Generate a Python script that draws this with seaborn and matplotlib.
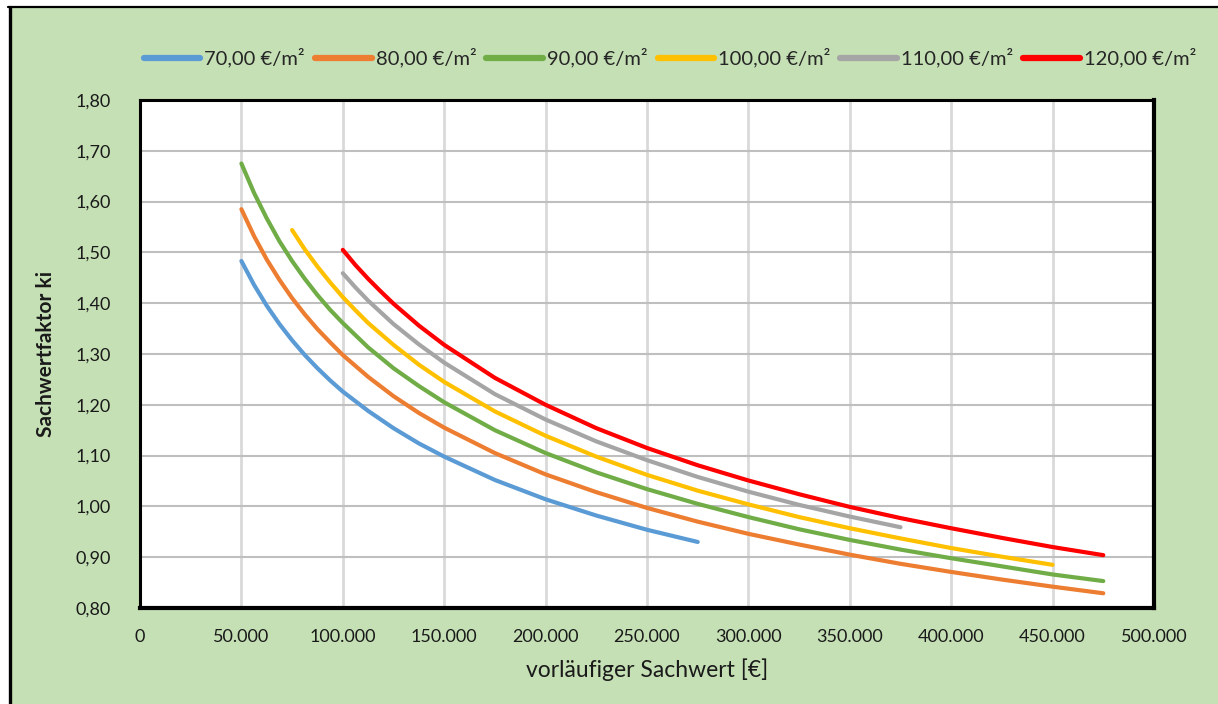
import matplotlib
matplotlib.use("Agg")
import matplotlib.pyplot as plt
from matplotlib.lines import Line2D
from matplotlib.patches import Rectangle
from matplotlib.ticker import FuncFormatter
import seaborn as sns
import pandas as pd

# Sachwertfaktor ki against vorläufiger Sachwert, one curve per Bodenrichtwert
series_labels = ["70,00 €/m²", "80,00 €/m²", "90,00 €/m²",
                 "100,00 €/m²", "110,00 €/m²", "120,00 €/m²"]

x_70 = [50000, 56250, 62500, 68750, 75000, 81250, 87500, 93750, 100000,
        112500, 125000, 137500, 150000, 175000, 200000, 225000, 250000, 275000]
k_70 = [1.483, 1.436, 1.395, 1.359, 1.327, 1.298, 1.272, 1.248, 1.226,
        1.188, 1.154, 1.124, 1.098, 1.052, 1.014, 0.982, 0.954, 0.930]

x_80 = [50000, 56250, 62500, 68750, 75000, 81250, 87500, 93750, 100000,
        112500, 125000, 137500, 150000, 175000, 200000, 225000, 250000,
        275000, 300000, 325000, 350000, 375000, 400000, 425000, 450000, 475000]
k_80 = [1.585, 1.532, 1.486, 1.446, 1.410, 1.378, 1.349, 1.323, 1.298,
        1.255, 1.217, 1.184, 1.155, 1.105, 1.063, 1.028, 0.997,
        0.970, 0.946, 0.925, 0.905, 0.887, 0.871, 0.856, 0.842, 0.829]

x_90 = [50000, 56250, 62500, 68750, 75000, 81250, 87500, 93750, 100000,
        112500, 125000, 137500, 150000, 175000, 200000, 225000, 250000,
        275000, 300000, 325000, 350000, 375000, 400000, 425000, 450000, 475000]
k_90 = [1.675, 1.617, 1.567, 1.522, 1.483, 1.448, 1.416, 1.387, 1.361,
        1.313, 1.272, 1.237, 1.205, 1.150, 1.105, 1.067, 1.034,
        1.005, 0.979, 0.955, 0.934, 0.915, 0.898, 0.882, 0.866, 0.853]

x_100 = [75000, 81250, 87500, 93750, 100000, 106250, 112500, 125000, 137500,
         150000, 175000, 200000, 225000, 250000, 275000, 300000, 325000,
         350000, 375000, 400000, 425000, 450000]
k_100 = [1.544, 1.506, 1.472, 1.441, 1.412, 1.386, 1.361, 1.318, 1.279,
         1.245, 1.187, 1.139, 1.098, 1.062, 1.031, 1.004, 0.979,
         0.957, 0.937, 0.918, 0.901, 0.885]

x_110 = [100000, 106250, 112500, 118750, 125000, 137500, 150000, 175000,
         200000, 225000, 250000, 275000, 300000, 325000, 350000, 375000]
k_110 = [1.459, 1.431, 1.405, 1.382, 1.359, 1.319, 1.283, 1.221,
         1.171, 1.128, 1.091, 1.058, 1.029, 1.003, 0.980, 0.959]

x_120 = [100000, 106250, 112500, 118750, 125000, 137500, 150000, 175000,
         200000, 225000, 250000, 275000, 300000, 325000, 350000, 375000,
         400000, 425000, 450000, 475000]
k_120 = [1.505, 1.475, 1.448, 1.423, 1.399, 1.356, 1.318, 1.253,
         1.200, 1.154, 1.115, 1.081, 1.051, 1.024, 0.999, 0.977,
         0.957, 0.938, 0.920, 0.904]

x_ticks = [0, 50000, 100000, 150000, 200000, 250000, 300000, 350000,
           400000, 450000, 500000]
y_ticks = [0.80, 0.90, 1.00, 1.10, 1.20, 1.30, 1.40, 1.50, 1.60, 1.70, 1.80]

line_colors = ["#5B9BD5", "#ED7D31", "#70AD47", "#FFC000", "#A5A5A5", "#FF0000"]

xs = [x_70, x_80, x_90, x_100, x_110, x_120]
ks = [k_70, k_80, k_90, k_100, k_110, k_120]
frames = []
for label, x, k in zip(series_labels, xs, ks):
    frames.append(pd.DataFrame({"Sachwert": x, "ki": k, "Bodenwert": label}))
df = pd.concat(frames, ignore_index=True)

sns.set_theme(style="white")
plt.rcParams["font.family"] = ["Lato", "DejaVu Sans"]

W, H = 1218, 704
fig = plt.figure(figsize=(W / 100, H / 100), dpi=100, facecolor="white")

# green chart area with a black frame on its left and top edge
fig.add_artist(Rectangle((9 / W, 0), 1 - 9 / W, 1 - 7 / H,
                         transform=fig.transFigure, facecolor="#C5E0B4",
                         edgecolor="none", zorder=0))
fig.add_artist(Line2D([9.5 / W, 9.5 / W], [0, 1 - 7 / H], transform=fig.transFigure,
                      color="black", linewidth=2.4, zorder=1))
fig.add_artist(Line2D([8 / W, 1], [1 - 7 / H, 1 - 7 / H], transform=fig.transFigure,
                      color="black", linewidth=1.6, zorder=1))

ax = fig.add_axes([140 / W, 96 / H, (1154 - 140) / W, (608 - 100) / H])
ax.set_facecolor("white")

sns.lineplot(data=df, x="Sachwert", y="ki", hue="Bodenwert",
             hue_order=series_labels, palette=line_colors, sort=False,
             estimator=None, linewidth=3.0, ax=ax, zorder=3)

ax.set_xlim(0, 500000)
ax.set_ylim(0.80, 1.80)
ax.set_xticks(x_ticks)
ax.set_yticks(y_ticks)
ax.xaxis.set_major_formatter(FuncFormatter(lambda v, p: "0" if v == 0 else f"{int(v):,}".replace(",", ".")))
ax.yaxis.set_major_formatter(FuncFormatter(lambda v, p: f"{v:.2f}".replace(".", ",")))
ax.tick_params(axis="both", length=0, labelsize=13, colors="#1a1a1a")
ax.tick_params(axis="x", pad=15)
ax.tick_params(axis="y", pad=21)

ax.grid(axis="y", color="#BFBFBF", linewidth=1.5, zorder=0)
ax.grid(axis="x", color="#D9D9D9", linewidth=2.0, zorder=0)
ax.set_axisbelow(True)
for side in ["left", "top"]:
    ax.spines[side].set_color("black")
    ax.spines[side].set_linewidth(2.2)
for side in ["right", "bottom"]:
    ax.spines[side].set_color("black")
    ax.spines[side].set_linewidth(3.0)

ax.set_xlabel("vorläufiger Sachwert [€]", fontsize=16.5, labelpad=10, color="#1a1a1a")
ax.set_ylabel("Sachwertfaktor ki", fontsize=15, fontweight="bold", labelpad=14,
              color="#1a1a1a")

handles, labels = ax.get_legend_handles_labels()
for h in handles:
    h.set_linewidth(4.5)
ax.legend(handles, labels, loc="center", bbox_to_anchor=(670 / W, 1 - 58 / H),
          bbox_transform=fig.transFigure, ncol=6, frameon=False, fontsize=14.5,
          handlelength=2.8, handletextpad=0.2, columnspacing=0.5)

fig.savefig("out.png", dpi=100, facecolor=fig.get_facecolor())
